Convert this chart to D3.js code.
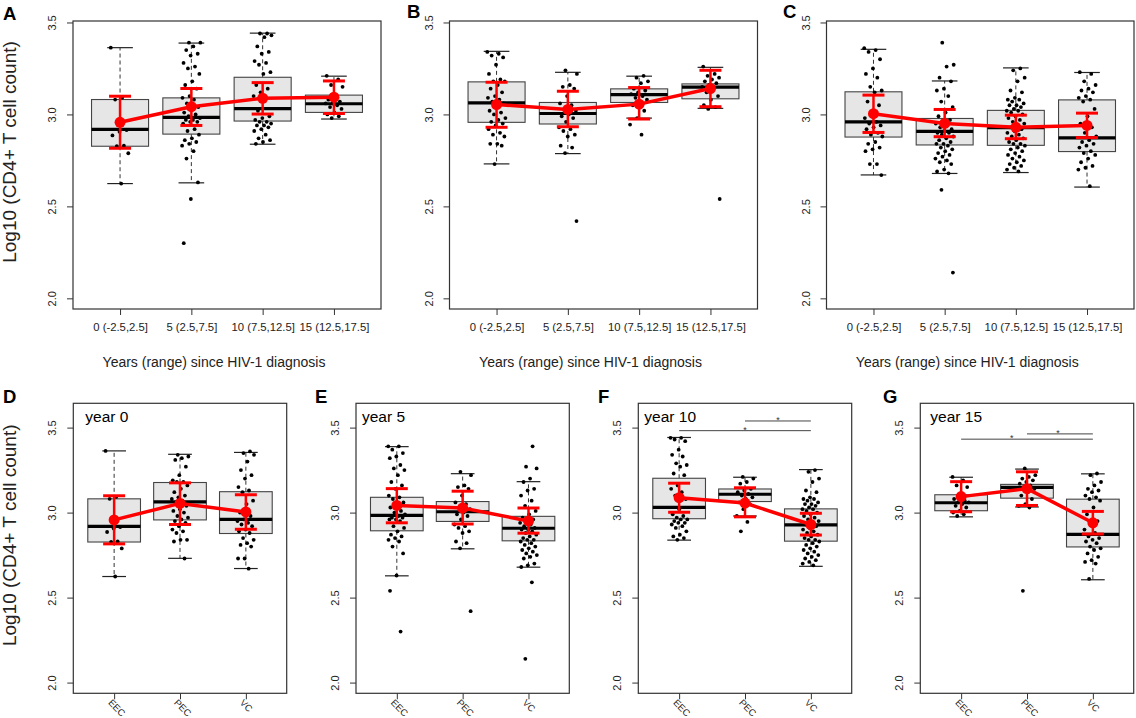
<!DOCTYPE html>
<html><head><meta charset="utf-8">
<script src="https://cdn.jsdelivr.net/npm/d3@7"></script>
<style>
html,body{margin:0;padding:0;background:#fff;}
svg{display:block;font-family:"Liberation Sans", Arial, Helvetica, sans-serif;}
</style></head><body>
<svg id="chart" width="1136" height="718"></svg>
<script>
// ---------------- DATA ----------------
const groups = ["EEC", "PEC", "VC"];
const yearLabels = ["0 (-2.5,2.5]", "5 (2.5,7.5]", "10 (7.5,12.5]", "15 (12.5,17.5]"];
const yearTitles = ["year 0", "year 5", "year 10", "year 15"];
const yTicks = [2.0, 2.5, 3.0, 3.5];

// box stats per year: [lower whisker, Q1, median, Q3, upper whisker]
const boxEEC = [[2.624, 2.827, 2.919, 3.081, 3.363], [2.628, 2.893, 2.984, 3.090, 3.388], [2.838, 2.964, 3.031, 3.202, 3.442], [2.975, 3.011, 3.058, 3.105, 3.208]];
const boxPEC = [[2.731, 2.957, 3.063, 3.177, 3.343], [2.787, 2.948, 3.005, 3.065, 3.229], [2.980, 3.065, 3.108, 3.139, 3.208], [3.033, 3.085, 3.148, 3.166, 3.256]];
const boxVC  = [[2.671, 2.877, 2.960, 3.123, 3.354], [2.679, 2.834, 2.908, 2.978, 3.182], [2.684, 2.832, 2.928, 3.022, 3.253], [2.605, 2.798, 2.872, 3.079, 3.228]];

// estimated means with error bars per year
const meanEEC = [2.957, 3.042, 3.088, 3.094];
const loEEC   = [2.816, 2.940, 3.002, 3.005];
const hiEEC   = [3.099, 3.141, 3.173, 3.182];
const meanPEC = [3.054, 3.027, 3.056, 3.141];
const loPEC   = [2.930, 2.933, 2.975, 3.042];
const hiPEC   = [3.175, 3.126, 3.146, 3.240];
const meanVC  = [3.004, 2.951, 2.930, 2.940];
const loVC    = [2.902, 2.879, 2.868, 2.874];
const hiVC    = [3.105, 3.027, 2.996, 3.007];

// individual observations per year
const ptsEEC = [
  [3.363, 3.092, 3.081, 2.915, 2.906, 2.886, 2.830, 2.828, 2.789, 2.624],
  [3.39, 3.39, 3.37, 3.35, 3.33, 3.32, 3.28, 3.26, 3.25, 3.22, 3.18, 3.16, 3.14, 3.10, 3.09, 3.08, 3.06, 3.04, 3.03, 3.01, 3.00, 2.99, 2.98, 2.97, 2.97, 2.96, 2.96, 2.95, 2.92, 2.91, 2.89, 2.87, 2.86, 2.85, 2.84, 2.83, 2.80, 2.76, 2.63, 2.54, 2.30],
  [3.44, 3.44, 3.43, 3.42, 3.37, 3.34, 3.33, 3.29, 3.28, 3.27, 3.23, 3.22, 3.16, 3.14, 3.12, 3.10, 3.08, 3.02, 2.99, 2.98, 2.97, 2.96, 2.96, 2.95, 2.94, 2.94, 2.93, 2.92, 2.91, 2.89, 2.87, 2.86, 2.85, 2.84],
  [3.21, 3.19, 3.16, 3.15, 3.10, 3.08, 3.07, 3.06, 3.06, 3.05, 3.04, 3.03, 3.01, 3.00, 2.99, 2.98]
];
const ptsPEC = [
  [3.34, 3.33, 3.32, 3.31, 3.27, 3.22, 3.19, 3.18, 3.18, 3.16, 3.14, 3.12, 3.10, 3.09, 3.08, 3.07, 3.06, 3.04, 3.02, 3.01, 3.00, 2.98, 2.97, 2.96, 2.95, 2.94, 2.92, 2.90, 2.89, 2.88, 2.84, 2.84, 2.83, 2.73],
  [3.24, 3.22, 3.16, 3.15, 3.14, 3.10, 3.06, 3.05, 3.03, 3.02, 3.00, 2.99, 2.98, 2.96, 2.93, 2.92, 2.91, 2.89, 2.88, 2.83, 2.82, 2.79, 2.42],
  [3.21, 3.20, 3.18, 3.17, 3.14, 3.13, 3.12, 3.11, 3.10, 3.09, 3.08, 3.06, 3.05, 3.02, 2.98, 2.945, 2.89],
  [3.26, 3.22, 3.21, 3.20, 3.19, 3.18, 3.17, 3.16, 3.15, 3.14, 3.12, 3.10, 3.08, 3.05, 3.04, 3.03, 2.54]
];
const ptsVC = [
  [3.36, 3.35, 3.34, 3.30, 3.25, 3.22, 3.20, 3.15, 3.13, 3.12, 3.07, 3.05, 3.00, 2.98, 2.96, 2.95, 2.94, 2.93, 2.92, 2.90, 2.89, 2.88, 2.85, 2.84, 2.82, 2.81, 2.80, 2.73, 2.73, 2.67],
  [3.39, 3.27, 3.26, 3.20, 3.18, 3.14, 3.13, 3.10, 3.07, 3.04, 3.01, 2.99, 2.97, 2.96, 2.95, 2.94, 2.93, 2.92, 2.91, 2.90, 2.90, 2.89, 2.88, 2.87, 2.86, 2.85, 2.84, 2.84, 2.83, 2.82, 2.81, 2.80, 2.79, 2.78, 2.77, 2.76, 2.75, 2.74, 2.73, 2.70, 2.69, 2.68, 2.59, 2.14],
  [3.25, 3.24, 3.20, 3.18, 3.13, 3.12, 3.09, 3.08, 3.08, 3.07, 3.06, 3.05, 3.05, 3.04, 3.03, 3.02, 3.02, 3.01, 3.00, 2.99, 2.98, 2.97, 2.96, 2.95, 2.94, 2.93, 2.92, 2.91, 2.90, 2.89, 2.88, 2.87, 2.86, 2.85, 2.84, 2.84, 2.83, 2.82, 2.81, 2.80, 2.79, 2.78, 2.77, 2.76, 2.75, 2.74, 2.73, 2.72, 2.71, 2.70, 2.69],
  [3.23, 3.22, 3.18, 3.16, 3.14, 3.13, 3.12, 3.10, 3.09, 3.08, 3.07, 3.03, 2.99, 2.95, 2.93, 2.90, 2.88, 2.86, 2.85, 2.84, 2.83, 2.82, 2.80, 2.79, 2.78, 2.76, 2.74, 2.72, 2.71, 2.70, 2.61]
];

// significance brackets (group index pairs, 1-based), per year panel
const sigYear10 = [{from: 1, to: 3, y: 3.482, star: 2.0}, {from: 2, to: 3, y: 3.539, star: 2.5}];
const sigYear15 = [{from: 1, to: 3, y: 3.432, star: 1.77}, {from: 2, to: 3, y: 3.463, star: 2.47}];

// ---------------- BUILD ----------------
const box = {EEC: boxEEC, PEC: boxPEC, VC: boxVC};
const mean = {EEC: meanEEC, PEC: meanPEC, VC: meanVC};
const lo = {EEC: loEEC, PEC: loPEC, VC: loVC};
const hi = {EEC: hiEEC, PEC: hiPEC, VC: hiVC};
const pts = {EEC: ptsEEC, PEC: ptsPEC, VC: ptsVC};
const item = (g, yi, label) => ({label, box: box[g][yi], mean: mean[g][yi], lo: lo[g][yi], hi: hi[g][yi], pts: pts[g][yi]});

const svg = d3.select("#chart");
const INK = "#222";

function drawPanel(cfg, items, yDomain, yTop, yBot, rotatedLabels, sig) {
  const n = items.length;
  const ext = 0.04 * n;
  const x = d3.scaleLinear().domain([0.5 - ext, n + 0.5 + ext]).range([cfg.x0, cfg.x1]);
  const y = d3.scaleLinear().domain(yDomain).range([yBot, yTop]);
  const g = svg.append("g");
  const bw = 0.4;

  const bx = g.selectAll("g.bx").data(items).join("g").attr("class", "bx");
  // whiskers (dashed)
  bx.append("line").attr("x1", (d, i) => x(i + 1)).attr("x2", (d, i) => x(i + 1))
    .attr("y1", d => y(d.box[3])).attr("y2", d => y(d.box[4]))
    .attr("stroke", "#333").attr("stroke-dasharray", "4,3");
  bx.append("line").attr("x1", (d, i) => x(i + 1)).attr("x2", (d, i) => x(i + 1))
    .attr("y1", d => y(d.box[1])).attr("y2", d => y(d.box[0]))
    .attr("stroke", "#333").attr("stroke-dasharray", "4,3");
  // staples
  [0, 4].forEach(k => {
    bx.append("line").attr("x1", (d, i) => x(i + 1 - 0.18)).attr("x2", (d, i) => x(i + 1 + 0.18))
      .attr("y1", d => y(d.box[k])).attr("y2", d => y(d.box[k]))
      .attr("stroke", "#222").attr("stroke-width", 1.2);
  });
  // box
  bx.append("rect").attr("x", (d, i) => x(i + 1 - bw)).attr("width", x(1 + bw) - x(1 - bw))
    .attr("y", d => y(d.box[3])).attr("height", d => y(d.box[1]) - y(d.box[3]))
    .attr("fill", "#e6e6e6").attr("stroke", "#444").attr("stroke-width", 1.1);
  // median
  bx.append("line").attr("x1", (d, i) => x(i + 1 - bw)).attr("x2", (d, i) => x(i + 1 + bw))
    .attr("y1", d => y(d.box[2])).attr("y2", d => y(d.box[2]))
    .attr("stroke", "#000").attr("stroke-width", 3.2);

  // jittered points (deterministic spread)
  const jit = 0.13;
  bx.each(function (d, i) {
    d3.select(this).selectAll("circle.pt").data(d.pts).join("circle").attr("class", "pt")
      .attr("cx", (v, j) => x(i + 1 + ((((j * 0.618034 + 0.37 * i) % 1) - 0.5) * 2 * jit)))
      .attr("cy", v => y(v)).attr("r", 1.9).attr("fill", "#000");
  });

  // red error bars
  const red = "#ff0000";
  const cap = 11;
  bx.append("line").attr("x1", (d, i) => x(i + 1)).attr("x2", (d, i) => x(i + 1))
    .attr("y1", d => y(d.lo)).attr("y2", d => y(d.hi)).attr("stroke", red).attr("stroke-width", 2.5);
  ["lo", "hi"].forEach(k => {
    bx.append("line").attr("x1", (d, i) => x(i + 1) - cap).attr("x2", (d, i) => x(i + 1) + cap)
      .attr("y1", d => y(d[k])).attr("y2", d => y(d[k])).attr("stroke", red).attr("stroke-width", 3);
  });
  g.append("path").datum(items)
    .attr("d", d3.line().x((d, i) => x(i + 1)).y(d => y(d.mean)))
    .attr("fill", "none").attr("stroke", red).attr("stroke-width", 3.5);
  g.selectAll("circle.mn").data(items).join("circle").attr("class", "mn")
    .attr("cx", (d, i) => x(i + 1)).attr("cy", d => y(d.mean)).attr("r", 5.5).attr("fill", red);

  // significance brackets
  if (sig) {
    g.selectAll("line.sig").data(sig).join("line").attr("class", "sig")
      .attr("x1", d => x(d.from)).attr("x2", d => x(d.to)).attr("y1", d => y(d.y)).attr("y2", d => y(d.y))
      .attr("stroke", "#444").attr("stroke-width", 1);
    g.selectAll("text.sig").data(sig).join("text").attr("class", "sig")
      .attr("x", d => x(d.star)).attr("y", d => y(d.y) + 2).attr("text-anchor", "middle")
      .attr("font-size", 9).attr("fill", "#333").text("*");
  }

  // frame
  g.append("rect").attr("x", cfg.x0).attr("y", yTop).attr("width", cfg.x1 - cfg.x0).attr("height", yBot - yTop)
    .attr("fill", "none").attr("stroke", "#333").attr("stroke-width", 1.2);

  // y axis
  const ya = g.append("g").attr("transform", `translate(${cfg.x0},0)`)
    .call(d3.axisLeft(y).tickValues(yTicks).tickFormat(d3.format(".1f")).tickSize(6));
  ya.select(".domain").remove();
  ya.selectAll(".tick line").attr("stroke", "#333");
  ya.selectAll(".tick text").attr("transform", "rotate(-90)").attr("x", 0).attr("y", -17).attr("dy", 0)
    .attr("text-anchor", "middle").attr("font-size", 11).attr("fill", INK)
    .attr("font-family", "Liberation Sans, Arial, sans-serif");

  // x axis
  const xa = g.append("g").attr("transform", `translate(0,${yBot})`)
    .call(d3.axisBottom(x).tickValues(d3.range(1, n + 1)).tickFormat(i => items[i - 1].label).tickSize(6));
  xa.select(".domain").remove();
  xa.selectAll(".tick line").attr("stroke", "#333");
  const xt = xa.selectAll(".tick text").attr("fill", INK).attr("font-family", "Liberation Sans, Arial, sans-serif");
  if (rotatedLabels) {
    xt.attr("x", 0).attr("y", 0).attr("dy", 0).attr("text-anchor", "start")
      .attr("transform", "translate(-7,10) rotate(45)").attr("font-size", 9.5);
  } else {
    xt.attr("y", 22).attr("dy", 0).attr("font-size", 11.3);
  }

  // panel letter
  svg.append("text").attr("x", cfg.lx).attr("y", cfg.ly).attr("font-size", 18.5).attr("font-weight", "bold")
    .attr("fill", "#000").text(cfg.letter);
  return {x, y, g};
}

// ---- top row: per group across years ----
const topPanels = [
  {letter: "A", group: "EEC", x0: 73, x1: 381, lx: 3, ly: 20},
  {letter: "B", group: "PEC", x0: 449.5, x1: 757.5, lx: 407, ly: 17.5},
  {letter: "C", group: "VC", x0: 826.5, x1: 1134, lx: 783, ly: 17.5}
];
const topY = [21, 309];
topPanels.forEach(p => {
  const items = yearLabels.map((lab, yi) => item(p.group, yi, lab));
  drawPanel(p, items, [1.942, 3.508], topY[0], topY[1], false, null);
  svg.append("text").attr("x", (p.x0 + p.x1) / 2 - 13).attr("y", topY[1] + 58).attr("text-anchor", "middle")
    .attr("font-size", 14).attr("fill", INK).text("Years (range) since HIV-1 diagnosis");
});

// ---- bottom row: per year across groups ----
const bottomPanels = [
  {letter: "D", year: 0, x0: 73.3, x1: 286.7, lx: 3, ly: 403, tx: 12},
  {letter: "E", year: 1, x0: 356, x1: 569.3, lx: 315, ly: 403, tx: 6},
  {letter: "F", year: 2, x0: 638.3, x1: 851.7, lx: 598, ly: 403, tx: 6, sig: sigYear10},
  {letter: "G", year: 3, x0: 920.3, x1: 1133.7, lx: 883, ly: 403, tx: 10, sig: sigYear15}
];
const botY = [403.3, 693.3];
bottomPanels.forEach(p => {
  const items = groups.map(gname => item(gname, p.year, gname));
  drawPanel(p, items, [1.937, 3.643], botY[0], botY[1], true, p.sig || null);
  svg.append("text").attr("x", p.x0 + p.tx).attr("y", botY[0] + 18.5).attr("font-size", 15.5)
    .attr("fill", "#000").text(yearTitles[p.year]);
});

// y-axis titles
[[topY, 0], [botY, 1]].forEach(([yy]) => {
  const cy = (yy[0] + yy[1]) / 2 - 13;
  svg.append("text").attr("transform", `translate(16,${cy}) rotate(-90)`).attr("text-anchor", "middle")
    .attr("font-size", 19).attr("fill", INK).text("Log10 (CD4+ T cell count)");
});
</script>
</body></html>
